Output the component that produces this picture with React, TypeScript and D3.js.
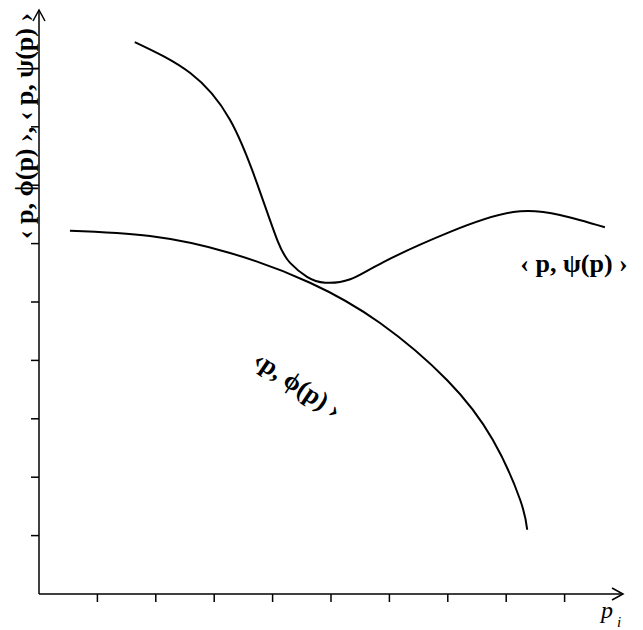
import React from "react";
import * as d3 from "d3";

const psiX = [1.64, 2.59, 3.27, 3.73, 4.08, 4.3, 4.59, 4.9, 5.33, 5.89, 7.04, 8.12, 8.92, 9.69];
const psiY = [9.45, 8.92, 8.12, 7.04, 6.06, 5.67, 5.43, 5.33, 5.39, 5.68, 6.2, 6.54, 6.49, 6.28];
const phiX = [0.53, 1.9, 3.27, 4.64, 5.84, 6.99, 7.77, 8.24, 8.36];
const phiY = [6.22, 6.13, 5.84, 5.33, 4.64, 3.66, 2.64, 1.61, 1.1];
const ticks = [1, 2, 3, 4, 5, 6, 7, 8, 9];

const W = 643;
const H = 630;
const FONT = "'Liberation Serif', 'Times New Roman', serif";

export default function App() {
  const x = d3.scaleLinear().domain([0, 10]).range([39, 623]);
  const y = d3.scaleLinear().domain([0, 10]).range([594, 10]);
  const line = d3
    .line<[number, number]>()
    .x((d) => x(d[0]))
    .y((d) => y(d[1]))
    .curve(d3.curveNatural);
  const psi = psiX.map((v, i) => [v, psiY[i]] as [number, number]);
  const phi = phiX.map((v, i) => [v, phiY[i]] as [number, number]);
  const x0 = x(0), y0 = y(0), xe = x(10), ye = y(10);

  return (
    <svg
      width={W}
      height={H}
      style={{ position: "absolute", left: 0, top: 0, background: "#fff" }}
    >
      <rect width={W} height={H} fill="#fff" />
      {/* axes */}
      <g stroke="#000" strokeWidth={1.5} fill="none">
        <line x1={x0} y1={y0} x2={xe} y2={y0} />
        <line x1={x0} y1={y0} x2={x0} y2={ye} />
        <polyline points={`${xe - 11},${y0 - 6} ${xe},${y0} ${xe - 11},${y0 + 6}`} />
        <polyline points={`${x0 - 6},${ye + 11} ${x0},${ye} ${x0 + 6},${ye + 11}`} />
        {ticks.map((t) => (
          <line key={"xt" + t} x1={x(t)} x2={x(t)} y1={y0} y2={y0 + 8} />
        ))}
        {ticks.map((t) => (
          <line key={"yt" + t} x1={x0 - 8} x2={x0} y1={y(t)} y2={y(t)} />
        ))}
      </g>
      {/* curves */}
      <path d={line(psi) || ""} fill="none" stroke="#000" strokeWidth={2} />
      <path d={line(phi) || ""} fill="none" stroke="#000" strokeWidth={2} />
      {/* labels */}
      <text
        x={574}
        y={272}
        fontFamily={FONT}
        fontWeight="bold"
        fontSize={26}
        textAnchor="middle"
      >
        ‹ p, ψ(p) ›
      </text>
      <text
        transform="translate(298,384) rotate(34)"
        fontFamily={FONT}
        fontWeight="bold"
        fontSize={26}
        textAnchor="middle"
        dy="0.35em"
      >
        ‹p, ϕ(p) ›
      </text>
      <text
        transform="translate(33,126) rotate(-90)"
        fontFamily={FONT}
        fontWeight="bold"
        fontSize={26}
        textAnchor="middle"
      >
        ‹ p, ϕ(p) ›, ‹ p, ψ(p) ›
      </text>
      <text x={601} y={618} fontFamily={FONT} fontStyle="italic" fontSize={24}>
        p
      </text>
      <text x={617} y={627} fontFamily={FONT} fontStyle="italic" fontSize={15}>
        i
      </text>
    </svg>
  );
}
